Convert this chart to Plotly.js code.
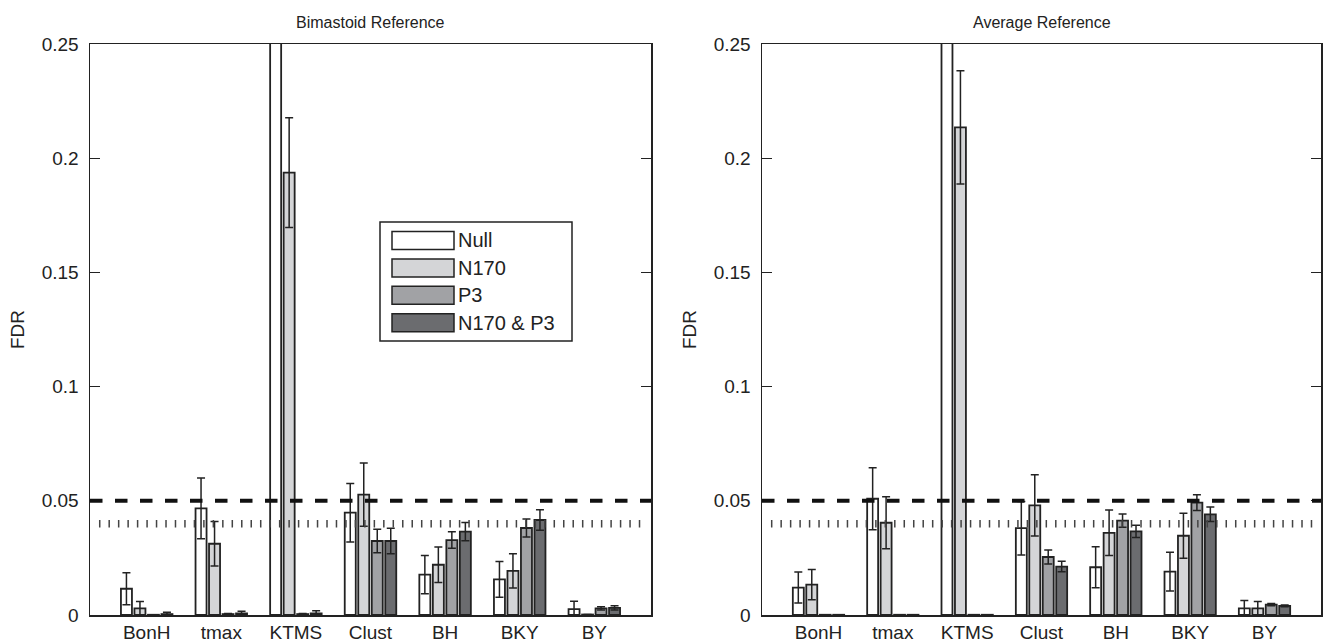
<!DOCTYPE html>
<html>
<head>
<meta charset="utf-8">
<script src="https://cdn.plot.ly/plotly-3.0.1.min.js"></script>
<style>html,body{margin:0;padding:0;background:#fff;}#chart{width:1324px;height:644px;}</style>
</head>
<body>
<div id="chart"></div>
<script>
// ---- data ----
var categories = ['BonH', 'tmax', 'KTMS', 'Clust', 'BH', 'BKY', 'BY'];
var seriesNames = ['Null', 'N170', 'P3', 'N170 & P3'];
var panelTitles = ['Bimastoid Reference', 'Average Reference'];
var yTickVals = [0, 0.05, 0.1, 0.15, 0.2, 0.25];
var yTickText = ['0', '0.05', '0.1', '0.15', '0.2', '0.25'];
var alphaLevel = 0.05;
var dottedLevel = 0.04;

// Bimastoid reference
var bimNull     = [0.0115, 0.0467, 0.9,    0.0448, 0.0177, 0.0156, 0.0026];
var bimNullErr  = [0.0070, 0.0133, 0,      0.0128, 0.0084, 0.0078, 0.0034];
var bimN170     = [0.0029, 0.0312, 0.1937, 0.0527, 0.0220, 0.0193, 0.0002];
var bimN170Err  = [0.0030, 0.0097, 0.0240, 0.0138, 0.0078, 0.0075, 0];
var bimP3       = [0.0001, 0.0004, 0.0004, 0.0324, 0.0328, 0.0381, 0.0029];
var bimP3Err    = [0,      0.0003, 0.0003, 0.0051, 0.0036, 0.0039, 0.0007];
var bimBoth     = [0.0004, 0.0007, 0.0007, 0.0324, 0.0365, 0.0416, 0.0031];
var bimBothErr  = [0.0008, 0.0009, 0.0012, 0.0056, 0.0040, 0.0045, 0.0009];

// Average reference
var avgNull     = [0.0120, 0.0509, 0.9,    0.0380, 0.0209, 0.0190, 0.0029];
var avgNullErr  = [0.0068, 0.0136, 0,      0.0117, 0.0090, 0.0085, 0.0034];
var avgN170     = [0.0133, 0.0404, 0.2135, 0.0480, 0.0360, 0.0347, 0.0029];
var avgN170Err  = [0.0066, 0.0114, 0.0248, 0.0134, 0.0100, 0.0098, 0.0030];
var avgP3       = [0.0001, 0.0001, 0.0001, 0.0254, 0.0413, 0.0492, 0.0045];
var avgP3Err    = [0,      0,      0,      0.0031, 0.0029, 0.0034, 0.0005];
var avgBoth     = [0.0001, 0.0001, 0.0001, 0.0212, 0.0366, 0.0441, 0.0040];
var avgBothErr  = [0,      0,      0,      0.0023, 0.0027, 0.0032, 0.0004];

// ---- styling ----
var fillColors = ['#ffffff', '#d4d5d7', '#a1a2a5', '#6b6c6f'];
var ink = '#222222';
var fontFam = '"Liberation Sans", Arial, Helvetica, sans-serif';

var panels = [
  {vals: [bimNull, bimN170, bimP3, bimBoth], errs: [bimNullErr, bimN170Err, bimP3Err, bimBothErr], xa: 'x', ya: 'y'},
  {vals: [avgNull, avgN170, avgP3, avgBoth], errs: [avgNullErr, avgN170Err, avgP3Err, avgBothErr], xa: 'x2', ya: 'y2'}
];

var traces = [];
panels.forEach(function (p) {
  for (var s = 0; s < seriesNames.length; s++) {
    traces.push({
      type: 'bar',
      name: seriesNames[s],
      x: categories,
      y: p.vals[s],
      xaxis: p.xa,
      yaxis: p.ya,
      showlegend: false,
      marker: {color: fillColors[s], line: {color: ink, width: 1.8}},
      error_y: {type: 'data', array: p.errs[s], visible: true, color: ink, thickness: 1.5, width: 4},
      hoverinfo: 'skip'
    });
  }
});

var W = 1324, H = 644, T = 44, B = 29;
var plotH = H - T - B;
function px(x) { return x / W; }
function py(y) { return (H - B - y) / plotH; }

function yAxis(anchor) {
  return {
    anchor: anchor, range: [0, 0.25], tickvals: yTickVals, ticktext: yTickText,
    ticks: 'inside', ticklen: 10, tickwidth: 1.3, tickcolor: ink,
    showline: true, linecolor: ink, linewidth: 1.5, mirror: 'ticks',
    showgrid: false, zeroline: false, fixedrange: true,
    ticklabelstandoff: 6,
    tickfont: {family: fontFam, size: 19, color: ink},
    title: {text: 'FDR', font: {family: fontFam, size: 19, color: ink}, standoff: 12}
  };
}
function xAxis(domain, anchor) {
  return {
    domain: domain, anchor: anchor, type: 'category', range: [-0.76, 6.76],
    ticks: '', showline: true, linecolor: ink, linewidth: 1.5, mirror: true,
    showgrid: false, zeroline: false, fixedrange: true,
    tickfont: {family: fontFam, size: 19, color: ink}
  };
}

var shapes = [];
var annotations = [];
[['x', 'y'], ['x2', 'y2']].forEach(function (r, i) {
  shapes.push({type: 'line', xref: r[0] + ' domain', yref: r[1], x0: 0, x1: 1, y0: alphaLevel, y1: alphaLevel,
    line: {color: '#111', width: 4, dash: '12.5px,12.5px'}, layer: 'above'});
  shapes.push({type: 'line', xref: r[0] + ' domain', yref: r[1], x0: 0.016, x1: 0.99, y0: dottedLevel, y1: dottedLevel,
    line: {color: '#444', width: 7.5, dash: '1.5px,7.97px'}, layer: 'above'});
  annotations.push({text: panelTitles[i], xref: r[0] + ' domain', yref: 'paper', x: 0.5, y: 1, xanchor: 'center', yanchor: 'bottom',
    yshift: 11, showarrow: false, font: {family: fontFam, size: 16, color: ink}});
});

// manual legend (wide swatches as in the reference)
shapes.push({type: 'rect', xref: 'paper', yref: 'paper', x0: px(380), x1: px(572), y0: py(341), y1: py(222),
  line: {color: ink, width: 1.5}, fillcolor: '#ffffff', layer: 'above'});
seriesNames.forEach(function (name, i) {
  var cy = 240.5 + i * 27.4;
  shapes.push({type: 'rect', xref: 'paper', yref: 'paper', x0: px(392), x1: px(454), y0: py(cy + 9), y1: py(cy - 9),
    line: {color: ink, width: 1.5}, fillcolor: fillColors[i], layer: 'above'});
  annotations.push({text: name, xref: 'paper', yref: 'paper', x: px(456), y: py(cy), xanchor: 'left', yanchor: 'middle',
    showarrow: false, font: {family: fontFam, size: 20, color: ink}});
});

var layout = {
  width: W, height: H,
  margin: {l: 0, r: 0, t: T, b: B},
  paper_bgcolor: '#ffffff', plot_bgcolor: '#ffffff',
  barmode: 'group', bargap: 0.276, bargroupgap: 0.185,
  showlegend: false,
  xaxis: xAxis([px(90), px(651)], 'y'),
  yaxis: yAxis('x'),
  xaxis2: xAxis([px(762), px(1321)], 'y2'),
  yaxis2: yAxis('x2'),
  shapes: shapes,
  annotations: annotations
};

Plotly.newPlot('chart', traces, layout, {displayModeBar: false, staticPlot: true});
</script>
</body>
</html>
